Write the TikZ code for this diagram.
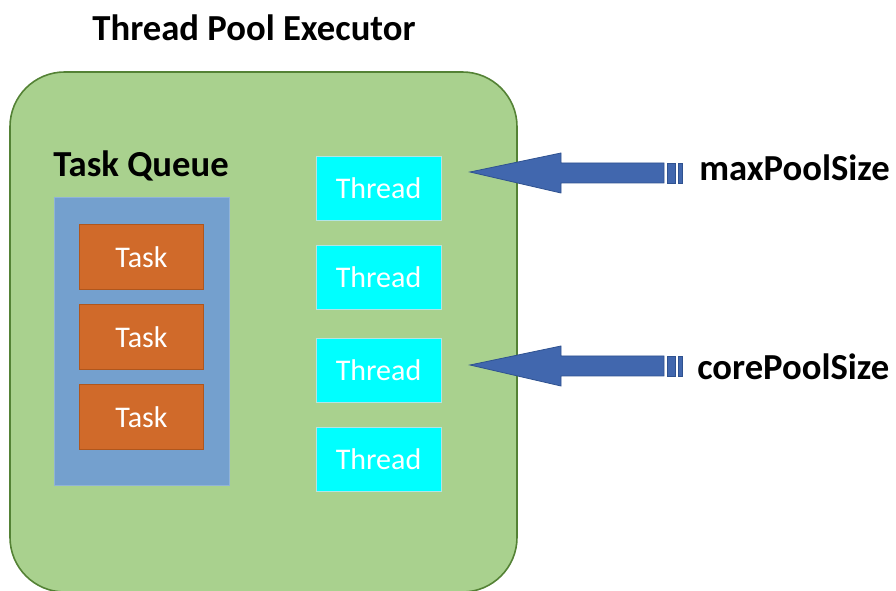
\documentclass[tikz,border=0pt]{standalone}
\usepackage{fontspec}
\setmainfont{Carlito}
\usetikzlibrary{positioning,calc}
\definecolor{poolgreen}{HTML}{A9D18E}
\definecolor{poolline}{HTML}{548235}
\definecolor{queueblue}{HTML}{74A0CE}
\definecolor{taskorange}{HTML}{D06A2A}
\definecolor{taskline}{HTML}{B0561C}
\definecolor{threadcyan}{HTML}{00FFFF}
\definecolor{arrowblue}{HTML}{4167AE}
\definecolor{arrowline}{HTML}{2F5290}
\newcommand{\sizearrow}[1]{%
  \filldraw[arrowblue, draw=arrowline, line width=0.6pt]
    (#1) -- ++(91,-19) -- ++(0,10) -- ++(103,0) -- ++(0,20)
    -- ++(-103,0) -- ++(0,10) -- cycle;
  \filldraw[arrowblue, draw=arrowline, line width=0.6pt]
    ($(#1)+(197,-9)$) rectangle ++(8,20);
  \filldraw[arrowblue, draw=arrowline, line width=0.6pt]
    ($(#1)+(208,-9)$) rectangle ++(4,20);
}

\begin{document}
\begin{tikzpicture}[x=0.75pt, y=-0.75pt,
    thread/.style={fill=threadcyan, draw=threadcyan!50!gray!40!white, line width=0.5pt,
      minimum width=93.75pt, minimum height=48pt, inner sep=0pt,
      text=white, font=\fontsize{22.5}{26}\selectfont},
    task/.style={fill=taskorange, draw=taskline, line width=1pt,
      minimum width=93pt, minimum height=48.75pt, inner sep=0pt,
      text=white, font=\fontsize{22.5}{26}\selectfont},
    label/.style={font=\bfseries\fontsize{27.5}{32}\selectfont, inner sep=0pt}]

  \useasboundingbox (0,0) rectangle (896,591);

  % Executor body
  \filldraw[fill=poolgreen, draw=poolline, line width=1.2pt, rounded corners=41pt]
    (10,72) rectangle (517,592);
  \node[label] (title) at (254,28) {Thread Pool Executor};

  % Task queue
  \node[label] (qlabel) at (141,166) {Task Queue};
  \node[fill=queueblue, draw=queueblue!80!white, minimum width=131pt,
    minimum height=216pt, inner sep=0pt] (queue) at (141.5,341) {};
  \node[task] (t1) at (141.5,257) {Task};
  \node[task] (t2) at (141.5,337) {Task};
  \node[task] (t3) at (141.5,417) {Task};

  % Worker threads
  \node[thread] (th1) at (378.5,188) {Thread};
  \node[thread] (th2) at (378.5,277.5) {Thread};
  \node[thread] (th3) at (378.5,370) {Thread};
  \node[thread] (th4) at (378.5,459) {Thread};

  % Pool size arrows
  \coordinate (maxtip) at (470,172);
  \coordinate (coretip) at (470,365);
  \sizearrow{maxtip}
  \sizearrow{coretip}
  \node[label, anchor=west] (maxsize) at (699,168) {maxPoolSize};
  \node[label, anchor=west] (coresize) at (697,367) {corePoolSize};

\end{tikzpicture}
\end{document}
